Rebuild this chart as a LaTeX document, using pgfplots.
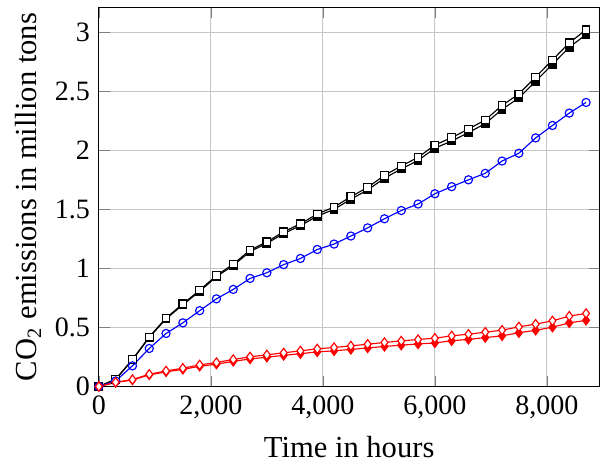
\documentclass[border=0pt]{standalone}
\usepackage{pgfplots}
\pgfplotsset{compat=1.18}
\usepackage{pgfplotstable}
\usepackage{fontspec}
\setmainfont{Liberation Serif}
\pgfplotstableread{
h A B C D E
0 0 0 0 0 0
300 0.062 0.060 0.047 0.036 0.034
600 0.229 0.225 0.175 0.059 0.055
900 0.420 0.415 0.322 0.104 0.098
1200 0.580 0.573 0.449 0.132 0.124
1500 0.700 0.692 0.539 0.155 0.145
1800 0.815 0.806 0.642 0.183 0.171
2100 0.940 0.930 0.742 0.203 0.189
2400 1.036 1.025 0.822 0.229 0.213
2700 1.155 1.143 0.915 0.251 0.233
3000 1.225 1.212 0.963 0.268 0.248
3300 1.310 1.295 1.032 0.285 0.263
3600 1.378 1.362 1.084 0.302 0.278
3900 1.460 1.442 1.160 0.319 0.293
4200 1.520 1.500 1.206 0.330 0.302
4500 1.607 1.586 1.274 0.344 0.314
4800 1.686 1.664 1.343 0.358 0.326
5100 1.788 1.764 1.420 0.373 0.339
5400 1.867 1.842 1.490 0.386 0.350
5700 1.940 1.914 1.545 0.398 0.360
6000 2.045 2.018 1.632 0.409 0.369
6300 2.107 2.078 1.692 0.429 0.387
6600 2.180 2.150 1.750 0.443 0.399
6900 2.257 2.226 1.805 0.460 0.414
7200 2.380 2.347 1.909 0.477 0.429
7500 2.477 2.443 1.975 0.505 0.455
7800 2.620 2.584 2.105 0.528 0.476
8100 2.765 2.728 2.210 0.556 0.502
8400 2.910 2.872 2.315 0.596 0.539
8700 3.020 2.980 2.405 0.619 0.560
}\data
\begin{document}
\begin{tikzpicture}
\begin{axis}[
  scale only axis,
  width=196.5pt, height=148.8pt,
  xmin=0, xmax=8940, ymin=0, ymax=3.21,
  xtick={0,2000,4000,6000,8000},
  ytick={0,0.5,1,1.5,2,2.5,3},
  grid=major,
  major grid style={gray!45, line width=0.4pt},
  /pgf/number format/assume math mode=true,
  tick label style={font=\fontsize{11}{13}\selectfont},
  label style={font=\fontsize{12}{14}\selectfont},
  ylabel style={yshift=-1.5pt},
  xlabel={Time in hours},
  ylabel={CO\textsubscript{2} emissions in million tons},
  every axis plot/.append style={line width=0.45pt, mark size=1.5pt},
]
\addplot[black, mark=square*, mark options={fill=black}] table[x=h,y=B]{\data};
\addplot[black, mark=square*, mark options={fill=white}] table[x=h,y=A]{\data};
\addplot[blue, mark=o, mark size=1.6pt, mark options={fill=white}] table[x=h,y=C]{\data};
\addplot[red, mark=diamond*, mark size=1.8pt, mark options={fill=red}] table[x=h,y=E]{\data};
\addplot[red, mark=diamond*, mark size=1.8pt, mark options={fill=white}] table[x=h,y=D]{\data};
\end{axis}
\path ([xshift=-38.8pt,yshift=-29.9pt]current axis.south west) rectangle ([yshift=2.9pt]current axis.north east);
\end{tikzpicture}
\end{document}
